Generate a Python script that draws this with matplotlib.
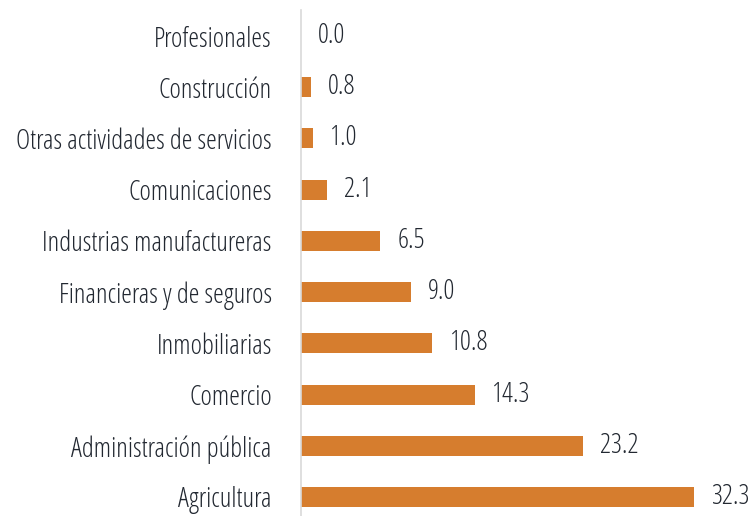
import matplotlib
matplotlib.use("Agg")
import matplotlib.pyplot as plt
from matplotlib import font_manager
from matplotlib.font_manager import FontProperties

categories = ["Profesionales", "Construcción", "Otras actividades de servicios",
              "Comunicaciones", "Industrias manufactureras", "Financieras y de seguros",
              "Inmobiliarias", "Comercio", "Administración pública", "Agricultura"]
values = [0.0, 0.8, 1.0, 2.1, 6.5, 9.0, 10.8, 14.3, 23.2, 32.3]

# look for a condensed / narrow face among installed fonts (prefer light weight)
light, regular = [], []
for f in font_manager.fontManager.ttflist:
    st = str(f.stretch).lower()
    nm = (f.name + " " + f.fname).lower()
    if f.style != "normal":
        continue
    if not ("condensed" in st or "condensed" in nm or "narrow" in nm):
        continue
    if "extra" in nm or "semi" in nm or "ultra" in nm or "bold" in nm or "thin" in nm:
        continue
    if "light" in nm or f.weight in (300, "light"):
        light.append(f)
    elif f.weight in (400, "normal", "regular"):
        regular.append(f)
pref = ["open sans", "roboto", "noto sans", "dejavu", "liberation", "lato"]
key = lambda f: next((i for i, p in enumerate(pref) if p in f.name.lower()), 99)
light.sort(key=key)
regular.sort(key=key)
if light:
    fp = FontProperties(fname=light[0].fname)
    fsize = 19.6
elif regular:
    fp = FontProperties(fname=regular[0].fname)
    fsize = 15.6
else:
    fp = FontProperties(family="DejaVu Sans")
    fsize = 12

fig = plt.figure(figsize=(7.52, 5.16), dpi=100)
ax = fig.add_axes([301/752, -0.0128, 451/752, 0.9926])
y = list(range(len(categories)))
ax.barh(y, values, height=0.39, color="#D67D2E")
ax.set_ylim(len(categories) - 0.5, -0.5)
ax.set_xlim(0, 451/12.17)
ax.set_yticks(y)
ax.set_yticklabels(categories, fontproperties=fp, fontsize=fsize, color="#222831")
ax.tick_params(axis="y", length=0, pad=21)
ax.set_xticks([])
for s in ["top", "right", "bottom"]:
    ax.spines[s].set_visible(False)
ax.spines["left"].set_color("#D9D9D9")
ax.spines["left"].set_linewidth(1.2)
for yi, v in zip(y, values):
    ax.text(v + 1.4, yi, f"{v:.1f}", va="center", ha="left",
            fontproperties=fp, fontsize=fsize, color="#222831")
fig.savefig("out.png", dpi=100)
